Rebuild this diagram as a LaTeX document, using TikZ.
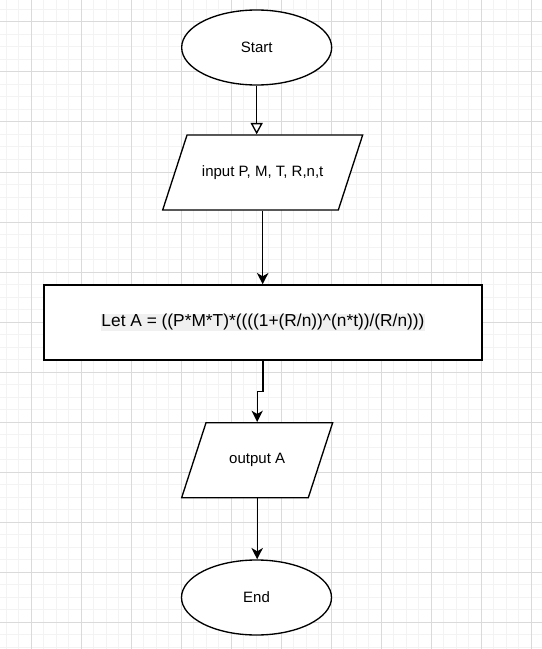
\documentclass[tikz,border=0pt]{standalone}
\usepackage{fontspec}
\setmainfont{Liberation Sans}
\usetikzlibrary{shapes.geometric,arrows.meta}

\definecolor{majorgray}{RGB}{218,218,218}
\definecolor{minorgray}{RGB}{243,243,243}
\definecolor{hlgray}{RGB}{240,240,240}

\tikzset{every picture/.style={line width=0.75pt}}
\tikzset{
  terminal/.style={draw, line width=1pt, ellipse, inner sep=0pt, minimum width=112.5pt, minimum height=56.25pt, fill=white, font=\fontsize{11.25}{13}\selectfont},
  io/.style={draw, line width=1pt, trapezium, trapezium left angle=72, trapezium right angle=108, trapezium stretches body=true, inner xsep=0pt, inner ysep=22.875pt, text height=8pt, text depth=2.5pt, fill=white, font=\fontsize{11.25}{13}\selectfont},
  process/.style={draw, line width=1pt, rectangle, inner sep=0pt, minimum width=328.5pt, minimum height=56.25pt, fill=white, font=\fontsize{13}{16}\selectfont},
  flow/.style={line width=1pt, -{Stealth[length=8.5pt,width=8.5pt,inset=2.5pt]}},
  openflow/.style={line width=1pt, -{Triangle[open,length=8.5pt,width=9pt,fill=white]}},
  minorline/.style={minorgray, line width=0.75pt},
  majorline/.style={majorgray, line width=0.75pt}
}

\begin{document}
\begin{tikzpicture}[x=0.75pt,y=0.75pt,yscale=-1,xscale=1]
    \useasboundingbox (0,0) rectangle (542,649);

    %Grid
    \foreach \x in {6,18.5,...,542} \draw[minorline] (\x,0) -- (\x,649);
    \foreach \y in {9.5,22,...,649} \draw[minorline] (0,\y) -- (542,\y);
    \foreach \x in {31,81,...,531} \draw[majorline] (\x,0) -- (\x,649);
    \foreach \y in {22,72,...,622} \draw[majorline] (0,\y) -- (542,\y);

    %Shape: Ellipse
    \draw (256.67,47.5) node [terminal] (start) {Start};
    %Shape: Parallelogram
    \draw (262.67,172.5) node [io, minimum width=150pt] (input) {input P, M, T, R,n,t};
    %Shape: Rectangle
    \draw (263,322.5) node [process] (formula) {\setlength{\fboxsep}{0pt}\colorbox{hlgray}{Let A = ((P*M*T)*((((1+(R/n))\textasciicircum(n*t))/(R/n)))}};
    %Shape: Parallelogram
    \draw (257.17,460.17) node [io, minimum width=113.25pt] (output) {output A};
    %Shape: Ellipse
    \draw (256.5,597.5) node [terminal] (end) {End};

    %Straight Lines
    \draw [openflow] (start.south) -- (start.south |- input.north);
    %Straight Lines
    \draw [flow] (input.south) -- (input.south |- formula.north);
    %Connector
    \draw [flow] (formula.south) -- ++(0,31) -| (output.north);
    %Straight Lines
    \draw [flow] (output.south) -- (output.south |- end.north);
\end{tikzpicture}
\end{document}
